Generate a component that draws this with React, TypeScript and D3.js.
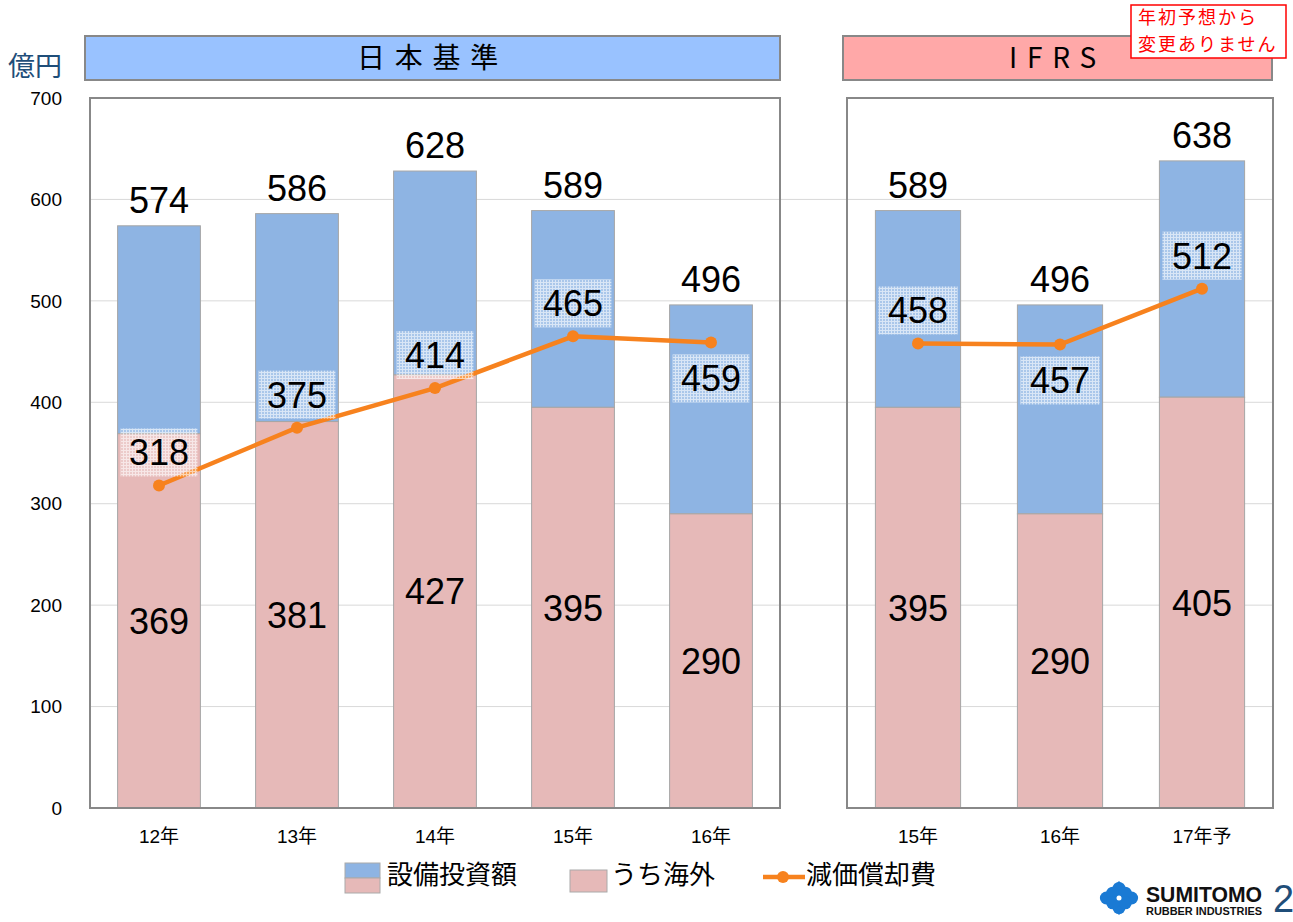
import React, { useEffect, useRef } from 'react';
import * as d3 from 'd3';

// data
const jpYears = ['12年', '13年', '14年', '15年', '16年'];
const jpCapex = [574, 586, 628, 589, 496];
const jpOverseas = [369, 381, 427, 395, 290];
const jpDepreciation = [318, 375, 414, 465, 459];

const ifrsYears = ['15年', '16年', '17年予'];
const ifrsCapex = [589, 496, 638];
const ifrsOverseas = [395, 290, 405];
const ifrsDepreciation = [458, 457, 512];

const yTicks = [0, 100, 200, 300, 400, 500, 600, 700];
const legendLabels = ['設備投資額', 'うち海外', '減価償却費'];
const noteLines = ['年初予想から', '変更ありません'];

const FONT = "'Liberation Sans', Arial, 'Noto Sans CJK JP', sans-serif";
const BLUE = '#8eb4e3';
const PINK = '#e6b9b8';
const ORANGE = '#f7821e';

const App = () => {
  const ref = useRef<SVGSVGElement>(null);

  useEffect(() => {
    const width = 1293;
    const height = 922;
    const svg = d3.select(ref.current);
    svg.selectAll('*').remove();
    svg.attr('width', width).attr('height', height).attr('font-family', FONT);

    const defs = svg.append('defs');
    const pat = defs.append('pattern')
      .attr('id', 'hatch')
      .attr('width', 3).attr('height', 3)
      .attr('patternUnits', 'userSpaceOnUse');
    pat.append('rect').attr('width', 3).attr('height', 3).attr('fill', '#fff').attr('opacity', 0.25);
    pat.append('path').attr('d', 'M0,0.5H3M0.5,0V3').attr('stroke', '#fff').attr('stroke-width', 1).attr('opacity', 0.55);

    const y = d3.scaleLinear().domain([0, 700]).range([808, 98]);

    // gridlines over both panels
    svg.append('g')
      .selectAll('line')
      .data(yTicks.filter(d => d > 0 && d < 700))
      .join('line')
      .attr('x1', 90).attr('x2', 1273)
      .attr('y1', d => y(d)).attr('y2', d => y(d))
      .attr('stroke', '#d9d9d9').attr('stroke-width', 1);

    // y tick labels
    svg.append('g')
      .selectAll('text')
      .data(yTicks)
      .join('text')
      .attr('x', 62).attr('y', d => y(d))
      .attr('dy', '0.35em')
      .attr('text-anchor', 'end')
      .attr('font-size', 19)
      .attr('fill', '#000')
      .text(d => d);

    svg.append('text')
      .attr('x', 8).attr('y', 76)
      .attr('font-size', 27)
      .attr('fill', '#1f4e79')
      .attr('font-family', "'Noto Sans CJK JP', sans-serif")
      .text('億円');

    const panel = (
      years: string[], capex: number[], overseas: number[], dep: number[],
      x0: number, x1: number, title: string, headerFill: string, hx0: number, hx1: number
    ) => {
      const x = d3.scaleBand().domain(years).range([x0, x1]).paddingInner(0.4).paddingOuter(0.2);
      const g = svg.append('g');

      // header
      g.append('rect')
        .attr('x', hx0).attr('y', 36).attr('width', hx1 - hx0).attr('height', 44)
        .attr('fill', headerFill).attr('stroke', '#888').attr('stroke-width', 2);
      g.append('text')
        .attr('x', (hx0 + hx1) / 2).attr('y', 58).attr('dy', '0.36em')
        .attr('text-anchor', 'middle').attr('font-size', 28)
        .attr('letter-spacing', '0.35em')
        .attr('font-family', "'Noto Sans CJK JP', 'Liberation Sans', sans-serif")
        .attr('fill', '#000')
        .text(title);

      // bars
      years.forEach((yr, i) => {
        const bx = x(yr)!;
        const bw = x.bandwidth();
        g.append('rect')
          .attr('x', bx).attr('y', y(capex[i])).attr('width', bw).attr('height', y(overseas[i]) - y(capex[i]))
          .attr('fill', BLUE).attr('stroke', '#a6a6a6').attr('stroke-width', 1);
        g.append('rect')
          .attr('x', bx).attr('y', y(overseas[i])).attr('width', bw).attr('height', y(0) - y(overseas[i]))
          .attr('fill', PINK).attr('stroke', '#a6a6a6').attr('stroke-width', 1);
      });

      // plot frame
      g.append('rect')
        .attr('x', x0).attr('y', 98).attr('width', x1 - x0).attr('height', 710)
        .attr('fill', 'none').attr('stroke', '#888').attr('stroke-width', 2);

      const cx = (yr: string) => x(yr)! + x.bandwidth() / 2;

      // total labels
      g.selectAll('text.total')
        .data(years)
        .join('text')
        .attr('class', 'total')
        .attr('x', d => cx(d))
        .attr('y', (d, i) => y(capex[i]) - 13)
        .attr('text-anchor', 'middle').attr('font-size', 36).attr('fill', '#000')
        .text((d, i) => capex[i]);

      // overseas labels
      g.selectAll('text.ovs')
        .data(years)
        .join('text')
        .attr('class', 'ovs')
        .attr('x', d => cx(d))
        .attr('y', (d, i) => y(overseas[i] / 2))
        .attr('dy', '0.36em')
        .attr('text-anchor', 'middle').attr('font-size', 36).attr('fill', '#000')
        .text((d, i) => overseas[i]);

      // depreciation line
      const line = d3.line<number>().x((d, i) => cx(years[i])).y(d => y(d));
      g.append('path')
        .attr('d', line(dep))
        .attr('fill', 'none').attr('stroke', ORANGE).attr('stroke-width', 4.5);
      g.selectAll('circle')
        .data(dep)
        .join('circle')
        .attr('cx', (d, i) => cx(years[i]))
        .attr('cy', d => y(d))
        .attr('r', 6)
        .attr('fill', ORANGE);

      // depreciation labels (16年 sits below its point)
      years.forEach((yr, i) => {
        const below = yr === '16年';
        const ly = y(dep[i]) + (below ? 36 : -33);
        const bw = x.bandwidth() - 6;
        g.append('rect')
          .attr('x', cx(yr) - bw / 2).attr('y', ly - 24)
          .attr('width', bw).attr('height', 48)
          .attr('fill', 'url(#hatch)');
        g.append('text')
          .attr('x', cx(yr)).attr('y', ly).attr('dy', '0.36em')
          .attr('text-anchor', 'middle').attr('font-size', 36).attr('fill', '#000')
          .text(dep[i]);
      });

      // x axis labels
      g.selectAll('text.xl')
        .data(years)
        .join('text')
        .attr('class', 'xl')
        .attr('x', d => cx(d)).attr('y', 836).attr('dy', '0.36em')
        .attr('text-anchor', 'middle').attr('font-size', 19).attr('fill', '#000')
        .attr('font-family', "'Liberation Sans', 'Noto Sans CJK JP', sans-serif")
        .text(d => d);
    };

    panel(jpYears, jpCapex, jpOverseas, jpDepreciation, 90, 780, '日本基準', '#99c2ff', 85, 780);
    panel(ifrsYears, ifrsCapex, ifrsOverseas, ifrsDepreciation, 847, 1273, 'IFRS', '#ffa8a8', 843, 1272);

    // note box
    const note = svg.append('g');
    note.append('rect')
      .attr('x', 1131).attr('y', 5).attr('width', 155).attr('height', 53)
      .attr('fill', '#fff').attr('stroke', '#ff0000').attr('stroke-width', 1.5);
    noteLines.forEach((t, i) => {
      note.append('text')
        .attr('x', 1138).attr('y', 24 + i * 26.5)
        .attr('font-size', 18).attr('letter-spacing', 2).attr('fill', '#ff0000')
        .attr('font-family', "'Noto Sans CJK JP', sans-serif")
        .text(t);
    });

    // legend
    const lg = svg.append('g').attr('font-family', "'Noto Sans CJK JP', sans-serif");
    lg.append('rect').attr('x', 345).attr('y', 863).attr('width', 35).attr('height', 15).attr('fill', BLUE).attr('stroke', '#aaa');
    lg.append('rect').attr('x', 345).attr('y', 878).attr('width', 35).attr('height', 15).attr('fill', PINK).attr('stroke', '#aaa');
    lg.append('text').attr('x', 387).attr('y', 875).attr('dy', '0.36em').attr('font-size', 26).attr('fill', '#000').text(legendLabels[0]);
    lg.append('rect').attr('x', 570).attr('y', 870).attr('width', 37).attr('height', 22).attr('fill', PINK).attr('stroke', '#aaa');
    lg.append('text').attr('x', 611).attr('y', 875).attr('dy', '0.36em').attr('font-size', 26).attr('fill', '#000').text(legendLabels[1]);
    lg.append('line').attr('x1', 763).attr('x2', 805).attr('y1', 877).attr('y2', 877).attr('stroke', ORANGE).attr('stroke-width', 4.5);
    lg.append('circle').attr('cx', 783).attr('cy', 877).attr('r', 6).attr('fill', ORANGE);
    lg.append('text').attr('x', 806).attr('y', 875).attr('dy', '0.36em').attr('font-size', 26).attr('fill', '#000').text(legendLabels[2]);

    // logo
    const logo = svg.append('g').attr('transform', 'translate(1119,898)');
    const lobes = [[0, -12], [12, 0], [0, 12], [-12, 0], [-6, -6], [6, -6], [6, 6], [-6, 6]];
    logo.append('rect').attr('x', -12).attr('y', -12).attr('width', 24).attr('height', 24)
      .attr('transform', 'rotate(45)').attr('fill', '#1a7ad4');
    logo.selectAll('circle.l').data(lobes).join('circle')
      .attr('class', 'l')
      .attr('cx', d => d[0] * 1.05).attr('cy', d => d[1] * 0.8).attr('r', 6.5).attr('fill', '#1a7ad4');
    logo.append('circle').attr('r', 2.5).attr('fill', '#fff');
    svg.append('text').attr('x', 1146).attr('y', 902)
      .attr('font-size', 22).attr('font-weight', 'bold').attr('fill', '#111')
      .attr('textLength', 116).attr('lengthAdjust', 'spacingAndGlyphs')
      .text('SUMITOMO');
    svg.append('text').attr('x', 1146).attr('y', 915)
      .attr('font-size', 11).attr('font-weight', 'bold').attr('fill', '#111')
      .attr('textLength', 116).attr('lengthAdjust', 'spacingAndGlyphs')
      .text('RUBBER INDUSTRIES');
    svg.append('text').attr('x', 1273).attr('y', 912)
      .attr('font-size', 38).attr('fill', '#1f4e79')
      .text('2');
  }, []);

  return <svg ref={ref} style={{ position: 'absolute', left: 0, top: 0, display: 'block' }} />;
};

export default App;
